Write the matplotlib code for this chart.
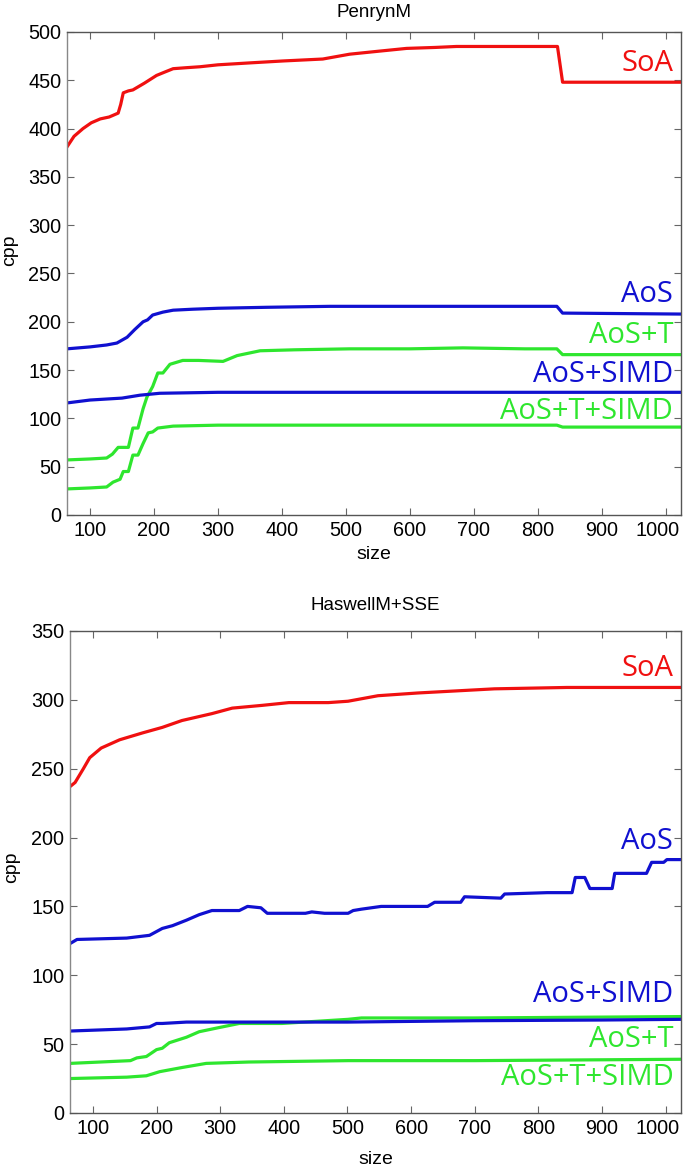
import matplotlib
matplotlib.use("Agg")
import matplotlib.pyplot as plt
from matplotlib.transforms import ScaledTranslation

# ---------------- data: PenrynM ----------------
pen_soa_x = [64, 75, 89, 102, 116, 130, 144, 148, 152, 160, 167, 185, 204, 215, 230, 250, 272, 300, 350, 402, 464, 506, 550, 595, 640, 673, 720, 780, 831, 839, 900, 1024]
pen_soa_y = [381, 392, 400, 406, 410, 412, 416, 425, 437, 439, 440, 447, 455, 458, 462, 463, 464, 466, 468, 470, 472, 477, 480, 483, 484, 485, 485, 485, 485, 448, 448, 448]

pen_aos_x = [64, 100, 126, 142, 158, 170, 183, 190, 198, 214, 230, 260, 300, 376, 475, 600, 700, 830, 839, 1024]
pen_aos_y = [172, 174, 176, 178, 184, 192, 200, 202, 207, 210, 212, 213, 214, 215, 216, 216, 216, 216, 209, 208]

pen_aost_x = [64, 100, 126, 135, 144, 160, 167, 175, 183, 189, 198, 206, 214, 225, 245, 270, 308, 330, 366, 420, 506, 600, 683, 780, 830, 839, 1024]
pen_aost_y = [57, 58, 59, 63, 70, 70, 90, 90, 110, 122, 133, 147, 147, 156, 160, 160, 159, 165, 170, 171, 172, 172, 173, 172, 172, 166, 166]

pen_aossimd_x = [64, 100, 150, 178, 209, 300, 500, 700, 900, 1024]
pen_aossimd_y = [116, 119, 121, 124, 126, 127, 127, 127, 127, 127]

pen_aostsimd_x = [64, 100, 126, 136, 147, 152, 160, 167, 175, 183, 191, 198, 206, 230, 300, 500, 700, 830, 839, 1024]
pen_aostsimd_y = [27, 28, 29, 34, 37, 45, 45, 62, 62, 74, 85, 86, 90, 92, 93, 93, 93, 93, 91, 91]

# ---------------- data: HaswellM+SSE ----------------
has_soa_x = [64, 72, 85, 95, 113, 142, 178, 209, 240, 287, 319, 366, 408, 470, 501, 548, 611, 731, 845, 900, 1024]
has_soa_y = [237, 240, 250, 258, 265, 271, 276, 280, 285, 290, 294, 296, 298, 298, 299, 303, 305, 308, 309, 309, 309]

has_aos_x = [64, 75, 153, 189, 209, 225, 247, 267, 287, 330, 343, 364, 374, 434, 444, 464, 501, 509, 522, 553, 626, 637, 678, 684, 741, 747, 814, 853, 858, 873, 881, 916, 920, 970, 978, 997, 1002, 1024]
has_aos_y = [123, 126, 127, 129, 134, 136, 140, 144, 147, 147, 150, 149, 145, 145, 146, 145, 145, 147, 148, 150, 150, 153, 153, 157, 156, 159, 160, 160, 171, 171, 163, 163, 174, 174, 182, 182, 184, 184]

has_aossimd_x = [64, 153, 189, 200, 209, 247, 350, 500, 700, 900, 1024]
has_aossimd_y = [59.5, 61, 62.5, 65, 65, 66, 66, 66, 67, 67.5, 68]

has_aost_x = [64, 159, 169, 184, 200, 209, 220, 247, 267, 298, 330, 397, 501, 522, 700, 1024]
has_aost_y = [36, 38, 40, 41, 46, 47, 51, 55, 59, 62, 65, 65, 68, 69, 69, 70]

has_aostsimd_x = [64, 153, 184, 205, 240, 278, 345, 501, 700, 1024]
has_aostsimd_y = [25, 26, 27, 30, 33, 36, 37, 38, 38, 39]

label_names = ["SoA", "AoS", "AoS+T", "AoS+SIMD", "AoS+T+SIMD"]
pen_label_y = [467, 228, 186, 145, 107]
has_label_y = [323, 197, 53, 86, 26]

RED = "#f01010"
BLUE = "#1010d0"
GREEN = "#2ee62e"
series_colors = [RED, BLUE, GREEN, BLUE, GREEN]

x_ticks = [100, 200, 300, 400, 500, 600, 700, 800, 900, 1000]

plt.rcParams['font.family'] = ['Liberation Sans', 'DejaVu Sans']

fig = plt.figure(figsize=(6.85, 11.67), dpi=100)
ax1 = fig.add_axes([0.0978, 0.5587, 0.8962, 0.4139])
ax2 = fig.add_axes([0.1022, 0.0463, 0.8918, 0.4130])

def style(ax, ylim, yticks, title, title_pad, xlabelpad, ylab_xy):
    ax.set_xlim(64, 1024)
    ax.set_ylim(*ylim)
    ax.set_xticks(x_ticks)
    ax.set_xticklabels([str(t) for t in x_ticks])
    ax.set_yticks(yticks)
    ax.tick_params(direction='in', top=True, right=True, length=5, width=0.8,
                   color='#666666', labelsize=14.3, pad=4)
    for s in ax.spines.values():
        s.set_color('#555555')
        s.set_linewidth(1.0)
    ax.spines['left'].set_color('#888888')
    ax.set_title(title, fontsize=13.5, pad=title_pad)
    ax.set_xlabel("size", fontsize=14, labelpad=xlabelpad)
    ax.set_ylabel("cpp", fontsize=14)
    ax.yaxis.set_label_coords(*ylab_xy)
    last = ax.xaxis.get_major_ticks()[-1].label1
    last.set_transform(last.get_transform() + ScaledTranslation(-6 / 72, 0, fig.dpi_scale_trans))

lw = 2.3
ax1.plot(pen_soa_x, pen_soa_y, color=RED, lw=lw)
ax1.plot(pen_aos_x, pen_aos_y, color=BLUE, lw=lw)
ax1.plot(pen_aost_x, pen_aost_y, color=GREEN, lw=lw)
ax1.plot(pen_aossimd_x, pen_aossimd_y, color=BLUE, lw=lw)
ax1.plot(pen_aostsimd_x, pen_aostsimd_y, color=GREEN, lw=lw)
style(ax1, (0, 500), list(range(0, 501, 50)), "PenrynM", 11, 5, (-0.08, 0.549))

ax2.plot(has_soa_x, has_soa_y, color=RED, lw=lw)
ax2.plot(has_aos_x, has_aos_y, color=BLUE, lw=lw)
ax2.plot(has_aost_x, has_aost_y, color=GREEN, lw=lw)
ax2.plot(has_aossimd_x, has_aossimd_y, color=BLUE, lw=lw)
ax2.plot(has_aostsimd_x, has_aostsimd_y, color=GREEN, lw=lw)
style(ax2, (0, 350), list(range(0, 351, 50)), "HaswellM+SSE", 15, 10, (-0.082, 0.51))

for ax, ys in ((ax1, pen_label_y), (ax2, has_label_y)):
    for name, yv, c in zip(label_names, ys, series_colors):
        ax.text(1012, yv, name, color=c, fontsize=21, ha='right', va='center',
                family=['Open Sans', 'DejaVu Sans'])

fig.savefig("out.png", dpi=100)
